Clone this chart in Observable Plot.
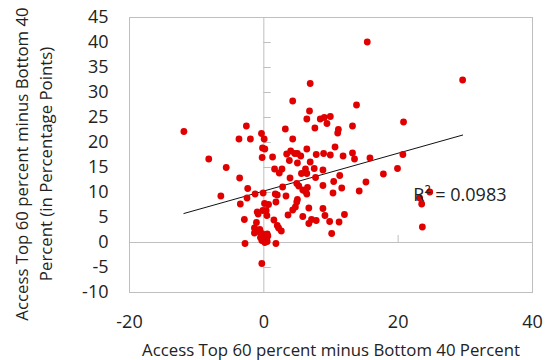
<!DOCTYPE html>
<html>
<head>
<meta charset="utf-8">
<script src="https://cdn.jsdelivr.net/npm/d3@7"></script>
<script src="https://cdn.jsdelivr.net/npm/@observablehq/plot@0.6"></script>
<style>
  body { margin: 0; background: #fff; }
  #chart svg { display: block; }
</style>
</head>
<body>
<div id="chart"></div>
<script>
// Gap in access between the top 60% and bottom 40%: x = first measure, y = second (percentage points)
const xValues = [
  15.4, 29.6, 6.9, 4.3, 13.8, 6.8, 6.4, 8.4, 9.0, 9.9,
  9.4, 20.8, 13.2, 7.6, 3.2, 11.1, 11.0, -11.9, -2.6, -3.7,
  -2.0, -0.35, 0.05, 4.3, -0.2, 0.15, -0.25, 1.3, 3.4, 4.0,
  4.6, 5.0, 5.5, 6.4, 7.8, 8.9, 9.9, 10.6, 11.8, 13.2,
  13.5, 15.8, 20.7, -8.2, -5.6, 3.8, 5.0, 6.9, 1.6, 2.7,
  2.3, 5.6, 6.2, 6.4, 7.5, 8.8, 17.8, 19.9, 11.3, 3.9,
  7.7, -3.6, 10.4, 15.2, 4.9, 5.2, 8.8, 2.8, -2.4, 6.5,
  5.8, 6.2, 6.4, 11.6, 10.3, 14.2, -0.1, -1.3, 1.7, 2.0,
  -6.4, 3.3, -2.5, 24.7, 23.2, 23.5, 5.0, 4.9, 0.7, 0.1,
  1.8, -3.5, 4.7, 4.3, 6.7, 8.8, -0.15, 0.35, -1.0, -0.85,
  0.45, 3.6, 9.1, 5.8, 12.0, 7.1, 7.8, -2.9, 1.5, 9.8,
  11.2, 6.7, -1.1, 2.0, 2.2, 2.6, -1.4, -0.6, -1.4, -0.8,
  -0.3, 0.05, 0.6, -0.5, -0.1, 0.4, 0.5, 0.15, 10.1, 23.6,
  -2.8, 1.8, -0.3, 0.5, -0.3
];
const yValues = [
  40.1, 32.5, 31.8, 28.3, 27.5, 26.3, 24.7, 24.7, 25.0, 25.2,
  23.8, 24.1, 23.3, 22.9, 22.7, 22.6, 21.9, 22.2, 23.3, 20.7,
  20.7, 21.8, 20.7, 20.7, 18.9, 18.7, 17.0, 17.1, 17.7, 18.3,
  17.8, 17.8, 17.3, 18.7, 17.6, 17.8, 17.5, 19.1, 17.3, 17.9,
  16.7, 16.9, 17.6, 16.7, 15.0, 16.4, 15.9, 16.1, 14.7, 14.7,
  13.9, 13.8, 14.7, 13.8, 14.8, 14.5, 13.7, 14.8, 13.4, 12.9,
  13.0, 12.9, 12.2, 12.1, 11.8, 11.3, 11.4, 11.1, 10.8, 11.0,
  10.5, 10.2, 9.7, 10.9, 9.9, 10.3, 9.9, 9.7, 9.7, 9.5,
  9.3, 9.3, 8.9, 10.1, 8.9, 7.7, 8.6, 8.1, 7.6, 7.8,
  8.1, 7.7, 7.1, 6.5, 6.9, 6.8, 6.4, 6.4, 6.1, 5.7,
  5.4, 5.5, 5.4, 5.2, 5.6, 4.6, 4.4, 4.6, 4.5, 4.2,
  4.1, 3.8, 4.0, 3.4, 2.9, 2.3, 2.9, 2.6, 1.9, 2.2,
  1.8, 1.5, 1.3, 1.0, 0.6, 0.8, 0.2, 0.0, 1.8, 3.1,
  -0.2, -0.2, -4.2, 1.7, 0.4
];

const xTicks = [-20, 0, 20, 40];
const yTicks = [-10, -5, 0, 5, 10, 15, 20, 25, 30, 35, 40, 45];

// Linear trend fitted to the points
const trendSlope = 0.378;
const trendIntercept = 10.3;
const rSquared = "0.0983";

const xTitle = "Access Top 60 percent minus Bottom 40 Percent";
const yTitleLines = ["Access Top 60 percent minus Bottom 40", "Percent (in Percentage Points)"];

const points = xValues.map((x, i) => ({x, y: yValues[i]}));
const trend = d3.extent(xValues).map(x => ({x, y: trendIntercept + trendSlope * x}));

const gridGray = "#bfbfbf";
const plainNumber = d => String(d); // hyphen-minus, as in the labels

const chart = Plot.plot({
  width: 548,
  height: 360,
  marginLeft: 129,
  marginRight: 16,
  marginTop: 17,
  marginBottom: 68,
  style: {fontFamily: "'Open Sans', sans-serif", background: "#fff", color: "#222", overflow: "visible"},
  x: {domain: [-20, 40]},
  y: {domain: [-10, 45]},
  marks: [
    Plot.frame({stroke: gridGray}),
    Plot.ruleX([0], {stroke: gridGray}),
    Plot.ruleY([0], {stroke: gridGray}),
    // short tick marks along the zero axes
    Plot.ruleY(yTicks, {y: d => d, x1: 0, x2: 1.1, stroke: gridGray}),
    Plot.ruleX(xTicks, {x: d => d, y1: 0, y2: 1.4, stroke: gridGray}),
    Plot.axisY({ticks: yTicks, tickSize: 0, tickPadding: 21, fontSize: 18, tickFormat: plainNumber, label: null}),
    Plot.axisX({ticks: xTicks, tickSize: 0, tickPadding: 23, fontSize: 18, tickFormat: plainNumber, label: null}),
    Plot.text([xTitle], {frameAnchor: "bottom", textAnchor: "middle", lineAnchor: "middle", dy: 58, fontSize: 16.8}),
    Plot.text([yTitleLines.join("\n")], {
      frameAnchor: "left", textAnchor: "middle", lineAnchor: "middle",
      rotate: -90, dx: -97, dy: 9, fontSize: 16.8, lineHeight: 1.45
    }),
    Plot.line(trend, {x: "x", y: "y", stroke: "#111", strokeWidth: 1}),
    Plot.dot(points, {x: "x", y: "y", r: 3.4, fill: "#e00000"}),
    Plot.text([`R² = ${rSquared}`], {frameAnchor: "right", textAnchor: "end", dx: -26, dy: 40, fontSize: 18})
  ]
});

document.getElementById("chart").append(chart);
</script>
</body>
</html>
